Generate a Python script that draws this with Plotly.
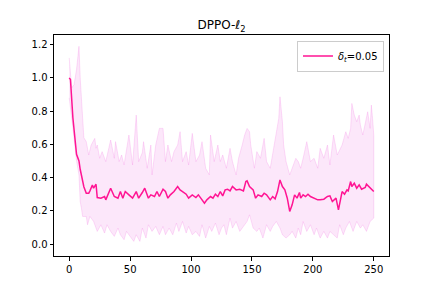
import plotly.graph_objects as go

# ---- data ----
mean_x = [0, 1, 3, 5, 6, 7, 8, 9, 11, 12, 14, 16, 17, 19, 20, 22, 23, 26, 29, 30,
          34, 37, 40, 42, 44, 46, 49, 52, 55, 57, 60, 62, 65, 67, 70, 72, 74, 77, 79, 81,
          83, 86, 89, 91, 93, 96, 98, 101, 104, 106, 108, 111, 113, 116, 118, 120, 122, 124, 126, 128,
          130, 132, 134, 137, 140, 143, 145, 146, 148, 151, 153, 155, 158, 160, 162, 165, 167, 169, 171, 173,
          175, 177, 179, 181, 183, 185, 187, 189, 190, 192, 194, 196, 198, 201, 204, 206, 209, 212, 214, 216,
          219, 221, 222, 224, 226, 228, 229, 231, 232, 234, 236, 238, 240, 243, 244, 247, 249, 250]
mean_y = [1.0, 0.99, 0.76, 0.6, 0.54, 0.52, 0.5, 0.45, 0.38, 0.345, 0.305, 0.305, 0.32, 0.355, 0.336, 0.36, 0.28, 0.276, 0.286, 0.266,
          0.336, 0.286, 0.276, 0.316, 0.276, 0.316, 0.296, 0.276, 0.316, 0.276, 0.31, 0.336, 0.276, 0.296, 0.286, 0.316, 0.286, 0.33, 0.316, 0.276,
          0.296, 0.316, 0.346, 0.326, 0.316, 0.30, 0.276, 0.296, 0.28, 0.296, 0.276, 0.246, 0.266, 0.286, 0.276, 0.30, 0.286, 0.316, 0.29, 0.326,
          0.33, 0.32, 0.346, 0.326, 0.33, 0.32, 0.376, 0.38, 0.346, 0.326, 0.276, 0.296, 0.286, 0.306, 0.296, 0.266, 0.286, 0.272, 0.316, 0.386,
          0.346, 0.326, 0.276, 0.196, 0.236, 0.296, 0.276, 0.31, 0.276, 0.296, 0.286, 0.30, 0.286, 0.276, 0.266, 0.266, 0.27, 0.286, 0.29, 0.256,
          0.276, 0.206, 0.25, 0.316, 0.30, 0.326, 0.32, 0.376, 0.346, 0.366, 0.336, 0.356, 0.33, 0.34, 0.36, 0.336, 0.326, 0.316]

upper_x = [0, 2, 4, 6, 8, 9, 11, 12, 14, 16, 18, 21, 22, 23, 25, 27, 30, 34, 37, 38,
           41, 43, 45, 49, 52, 55, 57, 60, 61, 64, 67, 68, 71, 74, 77, 79, 81, 84, 86, 89,
           91, 93, 96, 98, 101, 104, 107, 109, 112, 115, 116, 119, 122, 124, 126, 129, 132, 134, 137, 139,
           142, 144, 146, 148, 149, 152, 154, 157, 160, 162, 165, 167, 170, 172, 173, 175, 176, 178, 181, 183,
           186, 188, 190, 192, 195, 198, 201, 204, 206, 209, 212, 214, 217, 220, 224, 227, 229, 231, 232, 234,
           236, 238, 239, 241, 243, 245, 247, 248, 249, 250]
upper_y = [1.12, 0.94, 0.96, 1.05, 1.19, 1.0, 0.76, 0.64, 0.616, 0.536, 0.596, 0.636, 0.576, 0.596, 0.516, 0.556, 0.496, 0.626, 0.516, 0.616,
           0.496, 0.536, 0.476, 0.656, 0.476, 0.776, 0.496, 0.55, 0.616, 0.456, 0.596, 0.416, 0.596, 0.696, 0.696, 0.496, 0.596, 0.496, 0.556, 0.596,
           0.676, 0.496, 0.556, 0.476, 0.666, 0.496, 0.536, 0.616, 0.456, 0.416, 0.656, 0.496, 0.596, 0.496, 0.536, 0.456, 0.576, 0.496, 0.416, 0.516,
           0.596, 0.656, 0.696, 0.676, 0.596, 0.456, 0.556, 0.516, 0.636, 0.496, 0.456, 0.536, 0.656, 0.756, 0.886, 0.736, 0.596, 0.496, 0.416, 0.456,
           0.516, 0.496, 0.456, 0.516, 0.616, 0.496, 0.516, 0.456, 0.576, 0.516, 0.596, 0.476, 0.656, 0.536, 0.596, 0.676, 0.636, 0.696, 0.846, 0.776,
           0.736, 0.776, 0.716, 0.656, 0.736, 0.796, 0.696, 0.836, 0.756, 0.656]

lower_x = [0, 3, 6, 8, 9, 10, 11, 14, 15, 17, 20, 23, 26, 29, 31, 34, 37, 40, 42, 45,
           47, 50, 53, 55, 58, 60, 63, 65, 68, 71, 74, 77, 79, 82, 85, 88, 90, 93, 96, 98,
           101, 104, 107, 109, 112, 115, 117, 120, 123, 125, 127, 129, 132, 134, 137, 140, 143, 146, 148, 151,
           154, 156, 159, 162, 165, 167, 170, 173, 175, 178, 181, 183, 186, 188, 190, 192, 195, 198, 201, 203,
           206, 209, 212, 214, 217, 220, 222, 225, 227, 230, 233, 236, 239, 241, 244, 247, 250]
lower_y = [0.88, 0.7, 0.5, 0.416, 0.256, 0.216, 0.166, 0.166, 0.116, 0.166, 0.136, 0.076, 0.116, 0.066, 0.116, 0.076, 0.046, 0.096, 0.056, 0.026,
           0.076, 0.046, 0.016, 0.056, 0.016, 0.096, 0.036, 0.116, 0.076, 0.106, 0.056, 0.106, 0.056, 0.096, 0.056, 0.126, 0.076, 0.136, 0.066, 0.106,
           0.056, 0.076, 0.046, 0.116, 0.036, 0.106, 0.076, 0.126, 0.056, 0.096, 0.116, 0.056, 0.156, 0.096, 0.136, 0.076, 0.106, 0.136, 0.176, 0.096,
           0.076, 0.096, 0.036, 0.116, 0.076, 0.106, 0.136, 0.096, 0.056, 0.036, 0.056, 0.076, 0.036, 0.096, 0.056, 0.136, 0.076, 0.116, 0.056, 0.096,
           0.036, 0.076, 0.036, 0.076, 0.056, 0.036, 0.116, 0.056, 0.096, 0.136, 0.076, 0.136, 0.096, 0.116, 0.076, 0.136, 0.156]

x_ticks = [0, 50, 100, 150, 200, 250]
y_ticks = [0.0, 0.2, 0.4, 0.6, 0.8, 1.0, 1.2]
title_text = "DPPO-ℓ<sub>2</sub>"
legend_label = "<i>δ</i><sub><i>t</i></sub>=0.05"

LINE = "#FF1493"
FILL = "rgba(240,110,225,0.17)"
EDGE = "rgba(240,110,225,0.22)"

fig = go.Figure()
# shaded band as polygon from upper and lower arrays
fig.add_trace(go.Scatter(
    x=upper_x + lower_x[::-1], y=upper_y + lower_y[::-1],
    fill="toself", fillcolor=FILL, line=dict(color=EDGE, width=1),
    mode="lines", hoverinfo="skip", showlegend=False))
fig.add_trace(go.Scatter(
    x=mean_x, y=mean_y, mode="lines", name=legend_label,
    line=dict(color=LINE, width=1.5)))

axis_common = dict(showgrid=False, zeroline=False, showline=True, linecolor="black",
                   linewidth=1, mirror=True, ticks="outside", ticklen=3.5, tickwidth=1,
                   automargin=False,
                   tickcolor="black", tickfont=dict(family="DejaVu Sans", size=10, color="black"))
fig.update_xaxes(range=[-12.5, 262.5], tickvals=x_ticks, **axis_common)
fig.update_yaxes(range=[-0.072, 1.258], tickvals=y_ticks,
                 ticktext=[f"{v:.1f}" for v in y_ticks], **axis_common)

fig.update_layout(
    width=432, height=288,
    margin=dict(l=54, r=43, t=35, b=32, autoexpand=False),
    paper_bgcolor="white", plot_bgcolor="white",
    title=dict(text=title_text, x=0.5, xref="paper", xanchor="center",
               y=1, yref="paper", yanchor="bottom", pad=dict(b=6),
               font=dict(family="DejaVu Sans", size=12, color="black")),
    legend=dict(x=0.985, y=0.975, xanchor="right", yanchor="top",
                bgcolor="rgba(255,255,255,0.8)", bordercolor="#cccccc", borderwidth=1,
                font=dict(family="DejaVu Sans", size=10, color="black")),
    showlegend=True,
)

# remove the page's default 8px body margin so the 432x288 figure fills the window
fig.write_html("out.html", config={"displayModeBar": False},
               post_script="document.body.style.margin='0';")
